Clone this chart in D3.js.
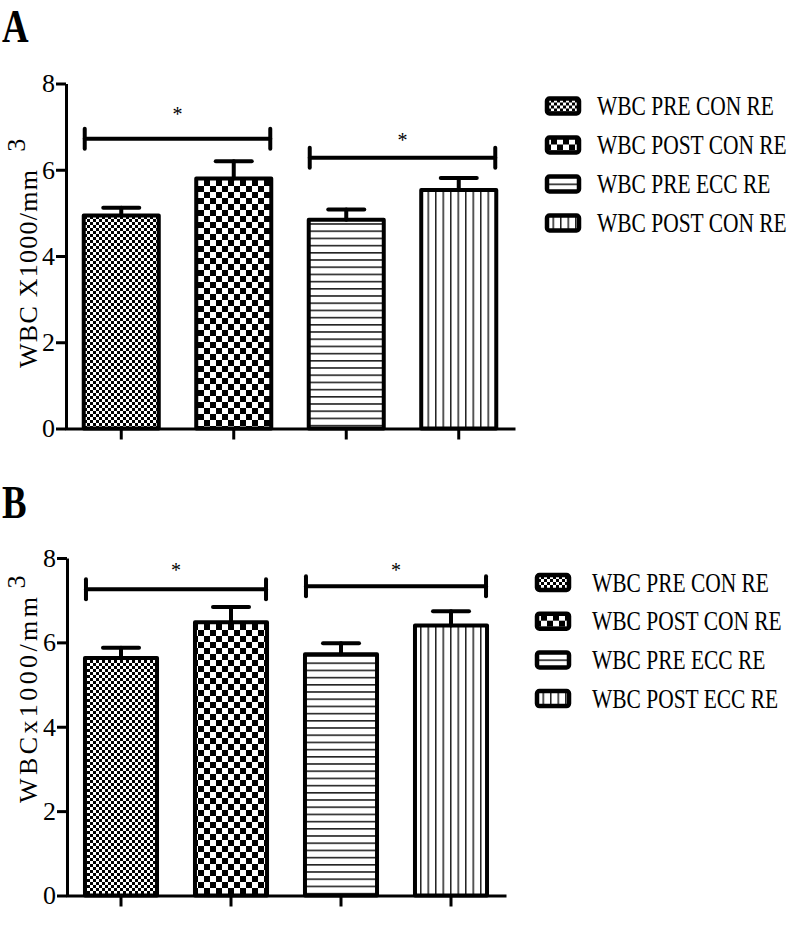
<!DOCTYPE html>
<html>
<head>
<meta charset="utf-8">
<script src="https://cdn.jsdelivr.net/npm/d3@7"></script>
<style>
  html, body { margin: 0; padding: 0; background: #fff; }
  svg { display: block; }
  text { font-family: "Liberation Serif", "DejaVu Serif", serif; fill: #000; }
</style>
</head>
<body>
<script>
// ---------------- data ----------------
const categories = ["WBC PRE CON RE", "WBC POST CON RE", "WBC PRE ECC RE", "WBC POST ECC RE"];
const yTicks = [0, 2, 4, 6, 8];

const valuesA = [4.94, 5.80, 4.84, 5.53];
const errorsA = [0.18, 0.40, 0.24, 0.28];
const legendA = ["WBC PRE CON RE", "WBC POST CON RE", "WBC PRE ECC RE", "WBC POST CON RE"];
const bracketPairs = [[0, 1], [2, 3]];
const bracketLevelsA = [6.72, 6.28];
const starLevelsA = [7.34, 6.74];

const valuesB = [5.63, 6.48, 5.72, 6.40];
const errorsB = [0.24, 0.36, 0.26, 0.34];
const legendB = ["WBC PRE CON RE", "WBC POST CON RE", "WBC PRE ECC RE", "WBC POST ECC RE"];
const bracketLevelsB = [7.26, 7.33];
const starLevelsB = [7.76, 7.76];

const panelLetters = ["A", "B"];
const axisTitleMain = ["WBC X1000/mm", "WBCx1000/mm"];
const axisTitleSup = "3";

// ---------------- drawing ----------------
const W = 794, H = 927;
const svg = d3.select("body").append("svg").attr("width", W).attr("height", H);
svg.append("rect").attr("width", W).attr("height", H).attr("fill", "#fff");

const defs = svg.append("defs");
function pattern(id, w, h) {
  const p = defs.append("pattern").attr("id", id).attr("patternUnits", "userSpaceOnUse")
    .attr("width", w).attr("height", h);
  p.append("rect").attr("width", w).attr("height", h).attr("fill", "#fff");
  return p;
}
{ const p = pattern("p0", 6, 6);
  p.append("rect").attr("x", 0).attr("y", 0).attr("width", 3).attr("height", 3).attr("fill", "#000");
  p.append("rect").attr("x", 3).attr("y", 3).attr("width", 3).attr("height", 3).attr("fill", "#000"); }
{ const p = pattern("p1", 12, 12);
  p.append("rect").attr("x", 0).attr("y", 0).attr("width", 6).attr("height", 6).attr("fill", "#000");
  p.append("rect").attr("x", 6).attr("y", 6).attr("width", 6).attr("height", 6).attr("fill", "#000"); }
{ const p = pattern("p2", 10, 7.2);
  p.append("rect").attr("x", 0).attr("y", 0).attr("width", 10).attr("height", 1.6).attr("fill", "#222"); }
{ const p = pattern("p3", 7.5, 10);
  p.append("rect").attr("x", 0).attr("y", 0).attr("width", 1.5).attr("height", 10).attr("fill", "#222"); }
const fills = ["url(#p0)", "url(#p1)", "url(#p2)", "url(#p3)"];

const panels = [
  { letter: panelLetters[0], letterY: 42, values: valuesA, errors: errorsA, legend: legendA,
    brackets: bracketLevelsA, stars: starLevelsA,
    yBottom: 428.5, yTop: 83.5, xLeft: 65, xRight: 515, padInner: 0.333,
    legendX: 545, legendY: 105.5, legendStep: 39, textX: 597,
    titleMain: axisTitleMain[0], titleY: 368, titleLen: 198, supDx: 17 },
  { letter: panelLetters[1], letterY: 518, values: valuesB, errors: errorsB, legend: legendB,
    brackets: bracketLevelsB, stars: starLevelsB,
    yBottom: 895.5, yTop: 558, xLeft: 66, xRight: 506, padInner: 0.345,
    legendX: 535, legendY: 582, legendStep: 38.7, textX: 592,
    titleMain: axisTitleMain[1], titleY: 803, titleLen: 206, supDx: 5 }
];

panels.forEach(P => {
  const g = svg.append("g");

  // panel letter
  g.append("text").attr("transform", `translate(2,${P.letterY}) scale(0.8,1)`)
    .attr("font-size", 46).attr("font-weight", "bold").text(P.letter);

  const y = d3.scaleLinear().domain([0, 8]).range([P.yBottom, P.yTop]);
  const x = d3.scaleBand().domain(categories).range([P.xLeft, P.xRight])
    .paddingInner(P.padInner).paddingOuter(P.padInner / 2);

  // bars
  g.selectAll("rect.bar").data(categories).join("rect").attr("class", "bar")
    .attr("x", d => x(d)).attr("width", x.bandwidth())
    .attr("y", (d, i) => y(P.values[i]))
    .attr("height", (d, i) => y(0) - y(P.values[i]))
    .attr("fill", (d, i) => fills[i])
    .attr("stroke", "#000").attr("stroke-width", 4).attr("stroke-linejoin", "round");

  // error bars
  const eb = g.selectAll("g.err").data(categories).join("g").attr("class", "err")
    .attr("stroke", "#000").attr("stroke-width", 4).attr("stroke-linecap", "round");
  eb.append("line")
    .attr("x1", d => x(d) + x.bandwidth() / 2).attr("x2", d => x(d) + x.bandwidth() / 2)
    .attr("y1", (d, i) => y(P.values[i])).attr("y2", (d, i) => y(P.values[i] + P.errors[i]));
  eb.append("line")
    .attr("x1", d => x(d) + x.bandwidth() / 2 - 18).attr("x2", d => x(d) + x.bandwidth() / 2 + 18)
    .attr("y1", (d, i) => y(P.values[i] + P.errors[i])).attr("y2", (d, i) => y(P.values[i] + P.errors[i]));

  // axes
  const yAxis = g.append("g").attr("transform", `translate(${P.xLeft + 1},0)`)
    .call(d3.axisLeft(y).tickValues(yTicks).tickSize(10).tickSizeOuter(0).tickFormat(d3.format("d")));
  const xAxis = g.append("g").attr("transform", `translate(0,${y(0)})`)
    .call(d3.axisBottom(x).tickSize(11).tickSizeOuter(0).tickFormat(""));
  [yAxis, xAxis].forEach(a => {
    a.select(".domain").attr("stroke", "#000").attr("stroke-width", 3);
    a.selectAll(".tick line").attr("stroke", "#000").attr("stroke-width", 3);
  });
  yAxis.selectAll(".tick text").attr("font-family", "Liberation Serif").attr("font-size", 26)
    .attr("fill", "#000").attr("x", -11);

  // significance brackets
  bracketPairs.forEach((pr, k) => {
    const x1 = x(categories[pr[0]]) + 1, x2 = x(categories[pr[1]]) + x.bandwidth() - 1;
    const yy = y(P.brackets[k]);
    const bg = g.append("g").attr("stroke", "#000").attr("stroke-width", 4).attr("stroke-linecap", "round");
    bg.append("line").attr("x1", x1).attr("x2", x2).attr("y1", yy).attr("y2", yy);
    bg.append("line").attr("x1", x1).attr("x2", x1).attr("y1", yy - 10).attr("y2", yy + 10);
    bg.append("line").attr("x1", x2).attr("x2", x2).attr("y1", yy - 10).attr("y2", yy + 10);
    g.append("text").attr("x", (x1 + x2) / 2).attr("y", y(P.stars[k]) + 9)
      .attr("text-anchor", "middle").attr("font-size", 20).text("*");
  });

  // axis title
  const t = g.append("text").attr("transform", `translate(37,${P.titleY}) rotate(-90)`)
    .attr("font-size", 26);
  t.append("tspan").attr("textLength", P.titleLen).text(P.titleMain);
  t.append("tspan").attr("dx", P.supDx).attr("dy", -12).text(axisTitleSup);

  // legend
  const lg = g.selectAll("g.leg").data(P.legend).join("g").attr("class", "leg")
    .attr("transform", (d, i) => `translate(${P.legendX},${P.legendY + i * P.legendStep})`);
  lg.append("rect").attr("x", 2).attr("y", -7).attr("width", 32).attr("height", 15).attr("rx", 2.5)
    .attr("fill", (d, i) => fills[i]).attr("stroke", "#000").attr("stroke-width", 4.5)
    .attr("stroke-linejoin", "round");
  lg.append("text").attr("transform", `translate(${P.textX - P.legendX},9.5) scale(0.78,1)`)
    .attr("font-size", 27.5).text(d => d);
});
</script>
</body>
</html>
